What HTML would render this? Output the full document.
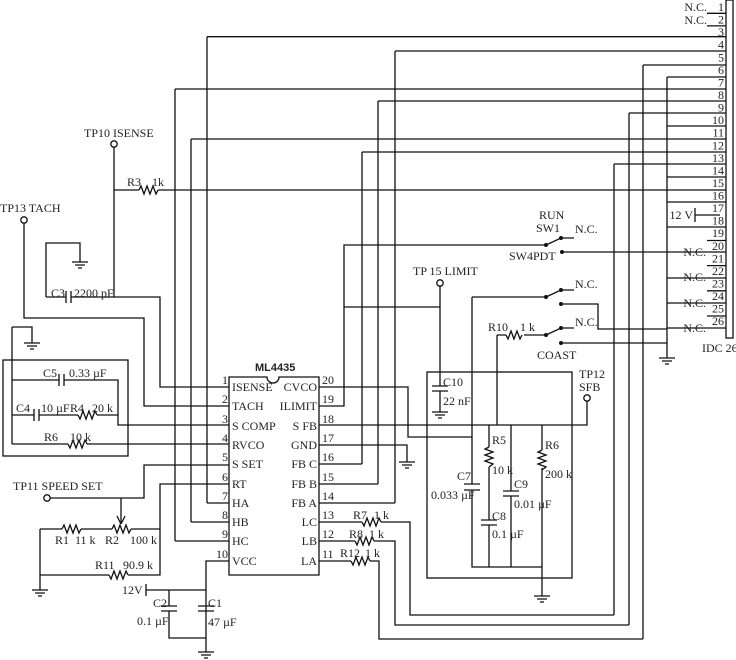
<!DOCTYPE html>
<html><head><meta charset="utf-8"><style>
html,body{margin:0;padding:0;background:#fff;}
svg{display:block;}
text{font-family:"Liberation Serif",serif;font-size:12px;fill:#222;}
.s{font-family:"Liberation Sans",sans-serif;font-weight:bold;font-size:11px;}
</style></head><body>
<svg width="736" height="660" viewBox="0 0 736 660" xmlns="http://www.w3.org/2000/svg">
<g stroke="#111" stroke-width="1.3" fill="none">
<rect x="726" y="0" width="7" height="338" fill="#fff"/>
<path d="M707 13.3H726M707 25.9H726M707 240.5H726M707 265.6H726M707 290.8H726M707 316H726"/>
<path d="M207 36.7H726M395 51H726M643 65H726M667 77H726M175 89H726M378 101H726M629 113H726M667 126H726M191 139H726M362 152H726M614 164H726M667 177H726M114 190H726M667 202H726M667 227H726M667 252H726M667 278H726M667 303H726M667 328H726"/>
<path d="M562 252H667M561 304H598V329H667M562 343H667"/>
<path d="M695 208V222M695 215H720"/>
<path d="M667 77V358M643 65V639M629 113V625M614 164V615M207 36.7V503M175 89V541M191 139V522M395 51V503M378 101V484M362 152V464"/>
<path d="M659 358H675M662 361H672M665 364H669"/>
<circle cx="114" cy="144" r="3.2" fill="#fff"/>
<path d="M114 147.2V297M46 297H66M71 297H160V387H229M46 297V243H80V262"/>
<path d="M66 291V303M71 291V303"/>
<path d="M72 262H88M75 265H85M78 268H82"/>
<circle cx="24" cy="220" r="3.2" fill="#fff"/>
<path d="M24 223.2V318H144V406H229"/>
<rect x="3" y="360" width="125" height="96"/>
<path d="M12 327H32V343M12 327V444M12 380H59M64 380H118V425H229M12 415H34M39 415H118M12 444H229"/>
<path d="M59 374V386M64 374V386M34 409V421M39 409V421"/>
<path d="M24 343H40M27 346H37M30 349H34"/>
<circle cx="47" cy="498" r="3.2" fill="#fff"/>
<path d="M50 498H144V465H229M121 498V522M40 529H160V484H229M160 529V575H40M40 529V590"/>
<path d="M117 516L121 524L125 516"/>
<path d="M32 590H48M35 593H45M38 596H42"/>
<path d="M207 503H229M191 522H229M175 541H229"/>
<path d="M229 561H206V652M146 590H206M146 584V596M169 590V606M169 611V638H206"/>
<path d="M161 606H177M161 611H177M198 606H214M198 611H214"/>
<path d="M198 652H214M201 655H211M204 658H208"/>
<path d="M229 377H267A6 6 0 0 0 279 377H319V575H229Z" fill="#fff"/>
<path d="M319 387H408V437H472M319 406H344V245H546M344 307H440M319 425H587V401M319 445H407V462M319 464H362M319 484H378M319 503H395"/>
<path d="M319 522H410V615H614M319 541H395V625H629M319 561H379V639H643"/>
<path d="M399 462H415M402 465H412M405 468H409"/>
<circle cx="587" cy="398" r="3.2" fill="#fff"/>
<circle cx="440" cy="283" r="3.2" fill="#fff"/>
<path d="M440 286.2V386M440 391V412M432 386H448M432 391H448"/>
<path d="M432 412H448M435 415H445M438 418H442"/>
<rect x="427" y="372" width="145" height="206"/>
<path d="M472 297H546M472 297V484M472 490V567H542M497 335V425M497 335H506M524 335H546M489 425V447M489 467V520M489 525V567M511 425V491M511 496V567M542 425V450M542 468V596"/>
<path d="M464 484H480M464 490H480M481 520H497M481 525H497M503 491H519M503 496H519"/>
<path d="M534 596H550M537 599H547M540 602H544"/>
<path d="M546 245L561 238H574M546 297L561 290H574M546 335L561 328H574"/>
</g>
<g fill="#111">
<circle cx="546" cy="245" r="2"/><circle cx="561" cy="238" r="2"/><circle cx="562" cy="252" r="2"/>
<circle cx="546" cy="297" r="2"/><circle cx="561" cy="290" r="2"/><circle cx="561" cy="304" r="2"/>
<circle cx="546" cy="335" r="2"/><circle cx="561" cy="328" r="2"/><circle cx="561" cy="343" r="2"/>
</g>
<g stroke="#111" stroke-width="1.3" fill="none">
<g fill="#fff" stroke="none">
<rect x="139" y="185" width="19" height="10"/>
<rect x="68" y="439" width="19" height="10"/>
<rect x="78" y="410" width="19" height="10"/>
<rect x="62" y="524" width="19" height="10"/>
<rect x="112" y="524" width="19" height="10"/>
<rect x="109" y="570" width="19" height="10"/>
<rect x="362" y="517" width="19" height="10"/>
<rect x="355" y="536" width="19" height="10"/>
<rect x="351" y="556" width="19" height="10"/>
<rect x="506" y="330" width="18" height="10"/>
</g>
<path d="M139 190l2 -4l3 8l3 -8l3 8l3 -8l3 8l2 -4"/>
<path d="M68 444l2 4l3 -8l3 8l3 -8l3 8l3 -8l2 4"/>
<path d="M78 415l2 4l3 -8l3 8l3 -8l3 8l3 -8l2 4"/>
<path d="M62 529l2 -4l3 8l3 -8l3 8l3 -8l3 8l2 -4"/>
<path d="M112 529l2 -4l3 8l3 -8l3 8l3 -8l3 8l2 -4"/>
<path d="M109 575l2 4l3 -8l3 8l3 -8l3 8l3 -8l2 4"/>
<path d="M362 522l2 4l3 -8l3 8l3 -8l3 8l3 -8l2 4"/>
<path d="M355 541l2 4l3 -8l3 8l3 -8l3 8l3 -8l2 4"/>
<path d="M351 561l2 4l3 -8l3 8l3 -8l3 8l3 -8l2 4"/>
<path d="M506 335l2 4l3 -8l3 8l3 -8l3 8l2 -4"/>
<path d="M489 447l-4 2l8 3l-8 3l8 3l-8 3l8 3l-4 3"/>
<path d="M542 450l-4 2l8 3l-8 3l8 3l-8 3l8 3l-4 3"/>
</g>
<g>
<text x="707" y="11" text-anchor="end">N.C.</text>
<text x="707" y="24" text-anchor="end">N.C.</text>
<g text-anchor="end">
<text x="724" y="11">1</text><text x="724" y="23.6">2</text><text x="724" y="36">3</text><text x="724" y="48.7">4</text><text x="724" y="61.3">5</text><text x="724" y="73.9">6</text><text x="724" y="86.4">7</text><text x="724" y="99">8</text><text x="724" y="111.6">9</text><text x="724" y="124.1">10</text><text x="724" y="136.7">11</text><text x="724" y="149.3">12</text><text x="724" y="161.8">13</text><text x="724" y="174.4">14</text><text x="724" y="187">15</text><text x="724" y="199.5">16</text><text x="724" y="212.1">17</text><text x="724" y="224.7">18</text><text x="724" y="237.2">19</text><text x="724" y="249.8">20</text><text x="724" y="262.4">21</text><text x="724" y="274.9">22</text><text x="724" y="287.5">23</text><text x="724" y="300.1">24</text><text x="724" y="312.6">25</text><text x="724" y="325.2">26</text>
<text x="693" y="219">12 V</text>
<text x="706" y="256">N.C.</text><text x="706" y="281">N.C.</text><text x="706" y="307">N.C.</text><text x="706" y="332">N.C.</text>
</g>
<text x="702" y="352">IDC 26</text>
<text x="84" y="137">TP10 ISENSE</text>
<text x="0" y="212">TP13 TACH</text>
<text x="127" y="186">R3</text><text x="152" y="186">1k</text>
<text x="51" y="297">C3</text><text x="74" y="297">2200 pF</text>
<text x="43" y="377">C5</text><text x="69" y="377">0.33 µF</text>
<text x="16" y="412">C4</text><text x="41" y="412">10 µF</text><text x="70" y="412">R4</text><text x="92" y="412">20 k</text>
<text x="44" y="441">R6</text><text x="70" y="441">10 k</text>
<text x="13" y="490">TP11 SPEED SET</text>
<text x="55" y="544">R1</text><text x="75" y="544">11 k</text><text x="105" y="544">R2</text><text x="130" y="544">100 k</text>
<text x="95" y="569">R11</text><text x="123" y="569">90.9 k</text>
<text x="122" y="594">12V</text>
<text x="153" y="607">C2</text><text x="137" y="625">0.1 µF</text>
<text x="208" y="607">C1</text><text x="208" y="626">47 µF</text>
<text class="s" x="255" y="371">ML4435</text>
<g text-anchor="end">
<text x="228" y="384">1</text><text x="228" y="403">2</text><text x="228" y="423">3</text><text x="228" y="442">4</text><text x="228" y="461">5</text><text x="228" y="481">6</text><text x="228" y="500">7</text><text x="228" y="519">8</text><text x="228" y="538">9</text><text x="228" y="558">10</text>
<text x="317" y="391">CVCO</text><text x="317" y="410">ILIMIT</text><text x="317" y="430">S FB</text><text x="317" y="449">GND</text><text x="317" y="468">FB C</text><text x="317" y="488">FB B</text><text x="317" y="507">FB A</text><text x="317" y="526">LC</text><text x="317" y="545">LB</text><text x="317" y="565">LA</text>
</g>
<text x="232" y="391">ISENSE</text><text x="232" y="410">TACH</text><text x="232" y="430">S COMP</text><text x="232" y="449">RVCO</text><text x="232" y="468">S SET</text><text x="232" y="488">RT</text><text x="232" y="507">HA</text><text x="232" y="526">HB</text><text x="232" y="545">HC</text><text x="232" y="565">VCC</text>
<text x="322" y="384">20</text><text x="322" y="403">19</text><text x="322" y="423">18</text><text x="322" y="442">17</text><text x="322" y="461">16</text><text x="322" y="481">15</text><text x="322" y="500">14</text><text x="322" y="519">13</text><text x="322" y="538">12</text><text x="322" y="558">11</text>
<text x="353" y="519">R7</text><text x="374" y="519">1 k</text>
<text x="349" y="538">R8</text><text x="369" y="538">1 k</text>
<text x="340" y="557">R12</text><text x="365" y="557">1 k</text>
<text x="539" y="219">RUN</text><text x="536" y="232">SW1</text>
<text x="575" y="233">N.C.</text>
<text x="509" y="260">SW4PDT</text>
<text x="413" y="275">TP 15 LIMIT</text>
<text x="575" y="288">N.C.</text>
<text x="575" y="326">N.C.</text>
<text x="488" y="331">R10</text><text x="520" y="331">1 k</text>
<text x="537" y="359">COAST</text>
<text x="579" y="378">TP12</text><text x="579" y="391">SFB</text>
<text x="443" y="386">C10</text><text x="443" y="405">22 nF</text>
<text x="492" y="444">R5</text><text x="492" y="474">10 k</text>
<text x="545" y="449">R6</text><text x="545" y="478">200 k</text>
<text x="471" y="480" text-anchor="end">C7</text><text x="431" y="499">0.033 µF</text>
<text x="514" y="488">C9</text><text x="514" y="508">0.01 µF</text>
<text x="492" y="520">C8</text><text x="492" y="538">0.1 µF</text>
</g>
</svg>
</body></html>
